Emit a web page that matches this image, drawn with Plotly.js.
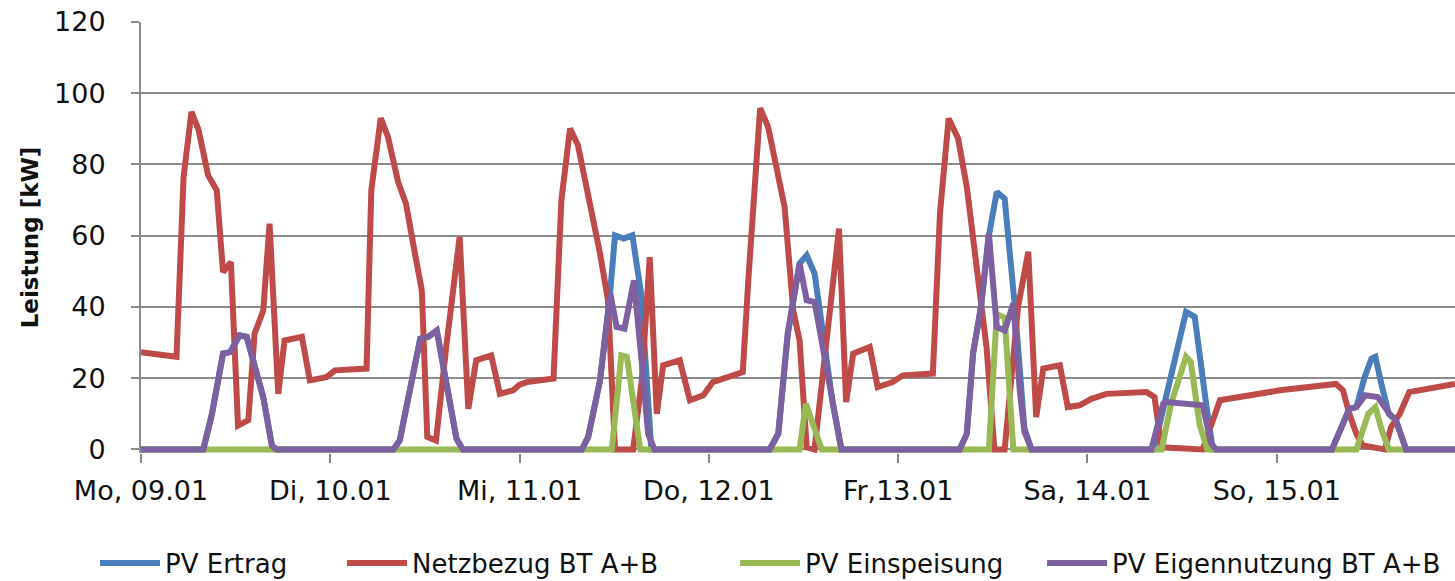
<!DOCTYPE html>
<html>
<head>
<meta charset="utf-8">
<script src="https://cdn.plot.ly/plotly-3.0.1.min.js"></script>
<style>
html,body{margin:0;padding:0;background:#fff;overflow:hidden;}
#chart{width:1455px;height:581px;}
</style>
</head>
<body>
<div id="chart"></div>
<script>
// x values are hours since Mo, 09.01 00:00
var dayTicks = [0, 24, 48, 72, 96, 120, 144];
var dayLabels = ["Mo, 09.01", "Di, 10.01", "Mi, 11.01", "Do, 12.01", "Fr,13.01", "Sa, 14.01", "So, 15.01"];

var ertragX = [0, 7.9, 9.0, 10.4, 11.3, 12.5, 13.4, 15.5, 16.6, 17.2,
  32.0, 32.8, 35.4, 36.4, 37.5, 38.7, 40.0, 40.8,
  55.9, 56.7, 58.2, 59.4, 60.1, 61.2, 62.3, 63.4, 64.7,
  79.7, 80.8, 82.0, 83.5, 84.4, 85.4, 86.0, 86.7, 87.7, 88.8,
  103.8, 104.7, 105.5, 106.5, 107.5, 108.5, 109.5, 110.8, 111.4, 112.0, 112.9,
  128.4, 132.5, 133.6, 135.1, 135.9,
  151.0, 153.2, 154.1, 155.1, 156.0, 156.5, 157.3, 158.2, 159.1, 160.4, 166.6];
var ertragY = [0, 0, 10, 26.9, 27.3, 32, 31.6, 14.7, 1, 0,
  0, 2.5, 31.1, 31.6, 33.4, 19.4, 3, 0,
  0, 3.5, 19.4, 42, 60.1, 59.2, 60.1, 43.8, 0,
  0, 4.4, 32.5, 52.2, 54.5, 49.4, 40, 28, 13, 0,
  0, 4.4, 27, 40, 60, 72.3, 70.4, 40, 20, 6, 0,
  0, 38.6, 37.2, 11.9, 0,
  0, 11.4, 11.9, 20, 25.5, 26, 18, 10, 8.2, 0, 0];

var netzX = [0, 4.5, 5.4, 6.4, 7.3, 8.5, 9.6, 10.4, 11.4, 12.3, 13.6, 14.4, 15.5, 16.3, 17.4, 18.2, 20.4, 21.4, 23.5,
  24.6, 28.6, 29.2, 30.4, 31.3, 32.6, 33.6, 34.5, 35.6, 36.3, 37.4, 38.7, 40.4, 41.5, 42.5, 44.4, 45.5, 47.2,
  48.0, 48.9, 52.3, 53.3, 54.4, 55.4, 56.3, 57.3, 58.2, 59.2, 60.1, 62.4, 63.5, 64.5, 65.4, 66.2, 68.3, 69.6, 71.3,
  72.5, 74.2, 76.3, 77.0, 78.5, 79.5, 80.6, 81.6, 82.7, 83.5, 84.4, 85.4, 87.3, 88.5, 89.4, 90.3, 92.4, 93.4, 95.3,
  96.6, 100.4, 101.3, 102.4, 103.6, 104.7, 105.7, 107.2, 108.2, 109.5, 111.2, 112.5, 113.5, 114.4, 116.5, 117.5, 119.0,
  120.5, 122.4, 127.5, 128.5, 129.4, 134.6, 135.9, 136.8, 144.4,
  151.5, 152.4, 153.2, 154.1, 154.9, 157.7, 158.5, 159.6, 160.8, 166.6];
var netzY = [27.3, 26, 76.5, 94.8, 89.7, 77, 72.8, 49.8, 52.6, 6.7, 8.2, 32.5, 39, 63.4, 15.6, 30.6, 31.6, 19.4, 20.3,
  22.2, 22.7, 72.8, 93, 87.8, 75.1, 69, 57.8, 44.7, 3.5, 2.5, 28.8, 59.7, 11.4, 25, 26.4, 15.6, 16.6,
  18.2, 18.9, 19.9, 70, 90.1, 85.4, 75.6, 66.7, 55, 42, 0, 0, 19.4, 54, 10, 23.6, 25, 13.8, 15.2,
  18.9, 20.3, 21.7, 47.5, 95.8, 90.6, 79.4, 68.1, 39, 30.6, 0.6, 0, 38.1, 62, 13.3, 26.9, 28.8, 17.5, 18.9,
  20.8, 21.3, 66.2, 92.9, 87.3, 73.7, 55, 28.8, 0, 0, 40, 55.5, 9.1, 22.7, 23.6, 11.9, 12.4,
  14.2, 15.6, 16.1, 14.7, 0.6, 0, 8.2, 13.8, 16.6,
  18.4, 16.6, 10, 4.4, 1.1, 0, 6.3, 10, 16.1, 18.4];

var einspX = [0, 59.7, 60.9, 61.6, 63.3, 83.5, 84.3, 86.3, 107.5, 108.5, 109.5, 110.6,
  129.4, 130.6, 132.5, 133.1, 134.2, 135.2, 154.1, 155.6, 156.5, 157.2, 158.2, 166.6];
var einspY = [0, 0, 26.4, 26, 0, 0, 12.8, 0, 0, 38, 37, 0,
  0, 12.8, 26, 24.6, 7.2, 0, 0, 10, 11.9, 6.3, 0, 0];

var eigenX = [0, 7.9, 9.0, 10.4, 11.3, 12.5, 13.4, 15.5, 16.6, 17.2,
  32.0, 32.8, 35.4, 36.4, 37.5, 38.7, 40.0, 40.8,
  55.9, 56.7, 58.2, 59.5, 60.3, 61.3, 62.5, 63.5, 64.3, 65.1,
  79.7, 80.8, 82.0, 83.5, 84.4, 85.4, 86.7, 87.7, 88.8,
  103.8, 104.7, 105.5, 106.5, 107.5, 108.5, 109.5, 110.6, 111.4, 112.0, 112.9,
  128.1, 129.6, 130.0, 134.6, 135.7, 136.3,
  151.0, 153.2, 154.1, 155.2, 156.8, 158.3, 159.1, 160.4, 166.6];
var eigenY = [0, 0, 10, 26.9, 27.3, 32, 31.6, 14.7, 1, 0,
  0, 2.5, 31.1, 31.6, 33.4, 19.4, 3, 0,
  0, 3.5, 19.4, 43.8, 34.4, 33.9, 47.5, 24.1, 4.4, 0,
  0, 4.4, 32.5, 52.2, 41.9, 41.4, 26, 12.8, 0,
  0, 4.4, 27, 40, 60.6, 34.4, 33.4, 41, 17, 5, 0,
  0, 12.8, 13.3, 12.4, 1.6, 0,
  0, 11.4, 11.9, 15.2, 14.7, 10, 8.2, 0, 0];

var seriesNames = ["PV Ertrag", "Netzbezug BT A+B", "PV Einspeisung", "PV Eigennutzung BT A+B"];
var seriesColors = ["#4A7EBB", "#BE4B48", "#98B954", "#7D60A0"];
var xs = [ertragX, netzX, einspX, eigenX];
var ys = [ertragY, netzY, einspY, eigenY];

var FONT = "DejaVu Sans, sans-serif";
var legendIds = ["legend", "legend2", "legend3", "legend4"];
var legendX = [0.0653, 0.2351, 0.5052, 0.7162];

var traces = seriesNames.map(function (n, i) {
  return {
    type: "scatter", mode: "lines", name: n,
    x: xs[i], y: ys[i],
    legend: legendIds[i],
    line: {color: seriesColors[i], width: 6, shape: "linear"},
    hoverinfo: "skip"
  };
});

var layout = {
  width: 1455, height: 581,
  margin: {l: 141, r: 0, t: 22, b: 128},
  paper_bgcolor: "#ffffff", plot_bgcolor: "#ffffff",
  font: {family: FONT, size: 24, color: "#111111"},
  showlegend: true,
  xaxis: {
    range: [0, 166.6], tickmode: "array", tickvals: dayTicks, ticktext: dayLabels,
    showgrid: false, zeroline: false, showline: false,
    ticks: "outside", ticklen: 9, tickwidth: 2, tickcolor: "#868686",
    ticklabelstandoff: 5,
    tickfont: {family: FONT, size: 27, color: "#111111"},
    automargin: false
  },
  yaxis: {
    range: [-1, 120], tickmode: "array", tickvals: [0, 20, 40, 60, 80, 100, 120],
    showgrid: true, gridcolor: "#8c8c8c", gridwidth: 2, zeroline: false,
    showline: true, linecolor: "#8c8c8c", linewidth: 2,
    ticks: "outside", ticklen: 8, tickwidth: 2, tickcolor: "#8c8c8c",
    ticklabelstandoff: 20,
    tickfont: {family: FONT, size: 27, color: "#111111"},
    title: {text: "<b>Leistung [kW]</b>", font: {family: FONT, size: 23, color: "#111111"}, standoff: 9},
    automargin: false
  }
};
legendIds.forEach(function (id, i) {
  layout[id] = {
    orientation: "h", xref: "container", yref: "container",
    x: legendX[i], xanchor: "left", y: 1 - 563 / 581, yanchor: "middle",
    font: {family: FONT, size: 26, color: "#111111"},
    itemwidth: 60, borderwidth: 0, bgcolor: "rgba(0,0,0,0)"
  };
});

Plotly.newPlot("chart", traces, layout, {staticPlot: true, displayModeBar: false});
</script>
</body>
</html>
